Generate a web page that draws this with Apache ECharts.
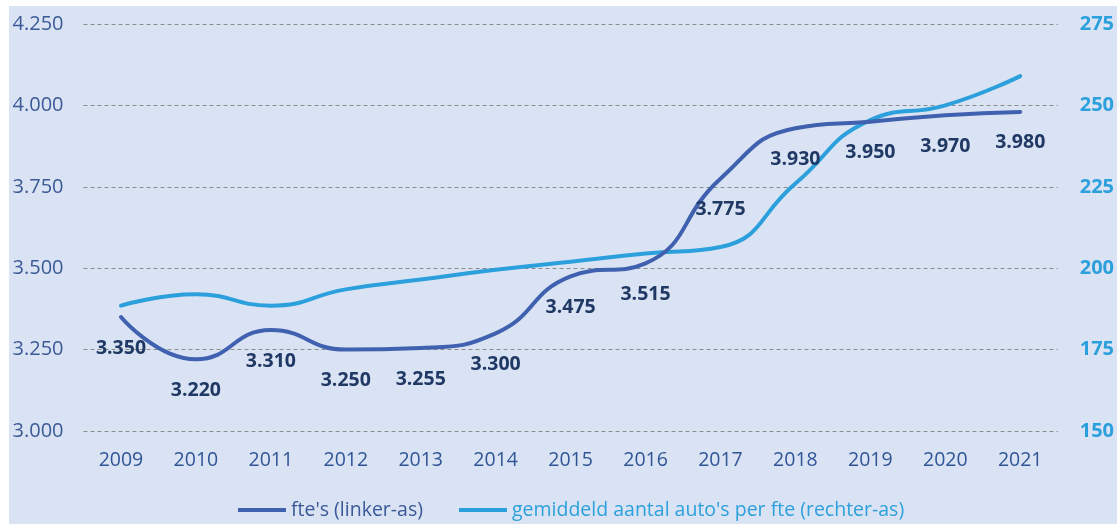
<!DOCTYPE html>
<html>
<head>
<meta charset="utf-8">
<script src="https://cdn.jsdelivr.net/npm/echarts@6/dist/echarts.min.js"></script>
<style>
  html, body { margin: 0; padding: 0; background: #fff; }
  #chart { width: 1117px; height: 524px; }
</style>
</head>
<body>
<div id="chart"></div>
<script>
// jaren
const years = ['2009', '2010', '2011', '2012', '2013', '2014', '2015', '2016', '2017', '2018', '2019', '2020', '2021']
// fte's (linker-as)
const fteValues = [3350, 3220, 3310, 3250, 3255, 3300, 3475, 3515, 3775, 3930, 3950, 3970, 3980]
// gemiddeld aantal auto's per fte (rechter-as)
const autoValues = [188.5, 192, 188.5, 193.5, 196.5, 199.5, 202, 204.5, 206.5, 226, 245.5, 250, 259]

const darkBlue = '#3f61b0'
const lightBlue = '#2ca0dc'
const fontFam = '"Open Sans", "Noto Sans", sans-serif'

// 3350 -> "3.350"
function nlFormat(v) {
  let k = Math.floor(v / 1000)
  let r = String(Math.round(v % 1000)).padStart(3, '0')
  return k + '.' + r
}

var myChart = echarts.init(document.getElementById('chart'))

let option = {
  backgroundColor: '#fff',
  graphic: [{
    type: 'rect',
    z: -10,
    shape: { x: 9, y: 6, width: 1108, height: 518 },
    style: { fill: '#dae3f3' }
  }],
  textStyle: { fontFamily: fontFam },
  grid: { left: 83.5, right: 57.5, top: 24, bottom: 93 },
  legend: {
    top: 495,
    left: 233,
    itemWidth: 48,
    itemHeight: 4,
    itemGap: 36,
    icon: 'rect',
    textStyle: { fontSize: 19.5, fontFamily: fontFam, padding: [0, 0, 0, 0] },
    data: [
      { name: "fte's (linker-as)", textStyle: { color: '#3a5898' } },
      { name: "gemiddeld aantal auto's per fte (rechter-as)", textStyle: { color: lightBlue } }
    ]
  },
  xAxis: {
    type: 'category',
    data: years,
    boundaryGap: true,
    axisLine: { show: false },
    axisTick: { show: false },
    axisLabel: { color: '#2f5597', fontSize: 19.5, margin: 19 }
  },
  yAxis: [
    {
      type: 'value',
      min: 3000,
      max: 4250,
      interval: 250,
      axisLine: { show: false },
      axisTick: { show: false },
      axisLabel: { color: '#3b5a96', fontSize: 20, margin: 20, formatter: nlFormat },
      splitLine: { lineStyle: { color: '#8c8c8c', type: [4, 3], width: 1 } }
    },
    {
      type: 'value',
      min: 150,
      max: 275,
      interval: 25,
      position: 'right',
      axisLine: { show: false },
      axisTick: { show: false },
      axisLabel: { color: lightBlue, fontSize: 20, fontWeight: 'bold', margin: 22 },
      splitLine: { show: false }
    }
  ],
  series: [
    {
      name: "gemiddeld aantal auto's per fte (rechter-as)",
      type: 'line',
      yAxisIndex: 1,
      data: autoValues,
      smooth: 0.5,
      symbol: 'none',
      color: lightBlue,
      lineStyle: { width: 4, color: lightBlue, cap: 'round' },
      z: 2
    },
    {
      name: "fte's (linker-as)",
      type: 'line',
      yAxisIndex: 0,
      data: fteValues,
      smooth: 0.5,
      symbol: 'circle',
      symbolSize: 2,
      showSymbol: true,
      itemStyle: { color: darkBlue },
      color: darkBlue,
      lineStyle: { width: 4, color: darkBlue, cap: 'round' },
      label: {
        show: true,
        position: 'bottom',
        distance: 20,
        color: '#1f3864',
        fontSize: 19.5,
        fontWeight: 'bold',
        formatter: p => nlFormat(p.value)
      },
      z: 3
    }
  ]
}

myChart.setOption(option)
</script>
</body>
</html>
